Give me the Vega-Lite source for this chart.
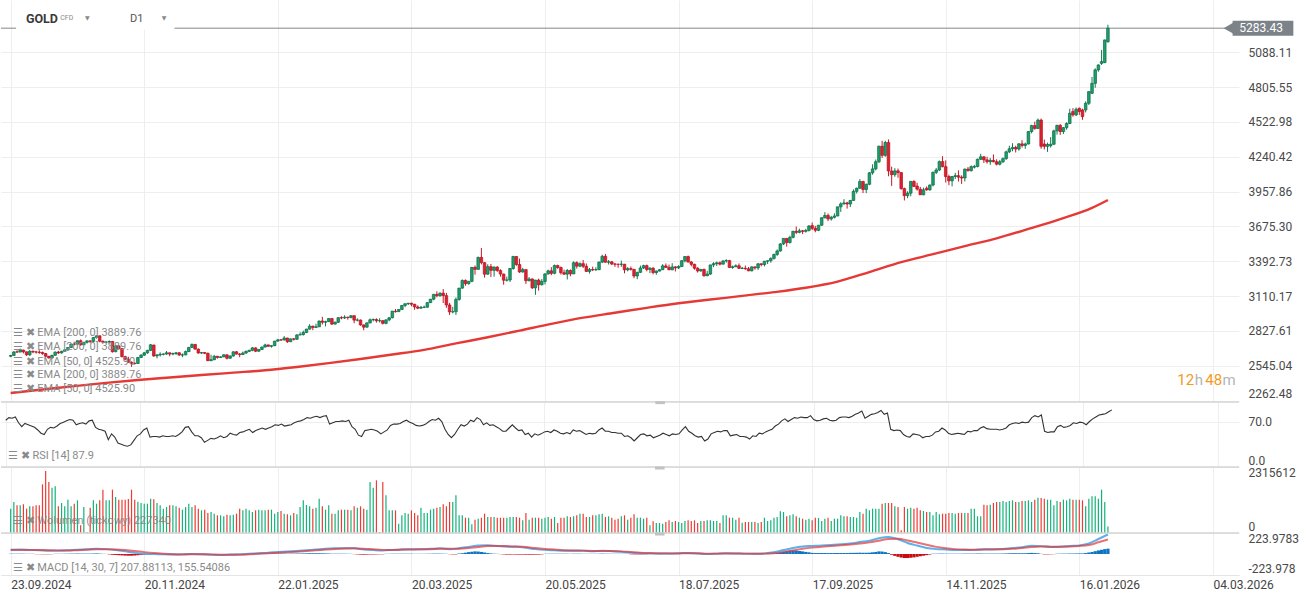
{
"$schema":"https://vega.github.io/schema/vega-lite/v6.json",
"background":"white","padding":0,"spacing":0,"bounds":"flush",
"config":{"view":{"stroke":null},"font":"Roboto","axis":{"labelFont":"Roboto","labelColor":"#4a4a4a","labelFontSize":12,"ticks":false,"domain":false,"gridColor":"#eeeeee"},"text":{"font":"Roboto"}},
"datasets":{
"bars":[
{"i":0,"o":2622,"h":2634,"l":2614,"c":2628,"v":854,"r":72,"d":3},
{"i":1,"o":2628,"h":2664,"l":2625,"c":2657,"v":1088,"r":76,"d":3},
{"i":2,"o":2658,"h":2670,"l":2650,"c":2656,"v":971,"r":75,"d":3},
{"i":3,"o":2656,"h":2685,"l":2655,"c":2672,"v":971,"r":77,"d":3},
{"i":4,"o":2672,"h":2675,"l":2645,"c":2658,"v":1006,"r":68,"d":3},
{"i":5,"o":2658,"h":2660,"l":2625,"c":2634,"v":854,"r":62,"d":2},
{"i":6,"o":2634,"h":2673,"l":2624,"c":2662,"v":936,"r":67,"d":2},
{"i":7,"o":2662,"h":2669,"l":2647,"c":2657,"v":936,"r":65,"d":2},
{"i":8,"o":2657,"h":2665,"l":2644,"c":2656,"v":971,"r":63,"d":-2},
{"i":9,"o":2656,"h":2671,"l":2642,"c":2653,"v":971,"r":61,"d":-2},
{"i":10,"o":2653,"h":2660,"l":2634,"c":2644,"v":1707,"r":57,"d":-3},
{"i":11,"o":2644,"h":2648,"l":2617,"c":2622,"v":2175,"r":52,"d":-3},
{"i":12,"o":2622,"h":2625,"l":2604,"c":2608,"v":1789,"r":50,"d":-3},
{"i":13,"o":2608,"h":2633,"l":2605,"c":2630,"v":1591,"r":58,"d":-2},
{"i":14,"o":2630,"h":2661,"l":2625,"c":2656,"v":1637,"r":61,"d":2},
{"i":15,"o":2656,"h":2666,"l":2640,"c":2649,"v":936,"r":60,"d":2},
{"i":16,"o":2649,"h":2667,"l":2644,"c":2662,"v":1053,"r":63,"d":2},
{"i":17,"o":2662,"h":2678,"l":2658,"c":2674,"v":936,"r":67,"d":3},
{"i":18,"o":2674,"h":2696,"l":2665,"c":2693,"v":1170,"r":69,"d":3},
{"i":19,"o":2693,"h":2722,"l":2690,"c":2721,"v":936,"r":71,"d":4},
{"i":20,"o":2721,"h":2740,"l":2710,"c":2720,"v":1029,"r":73,"d":4},
{"i":21,"o":2720,"h":2750,"l":2716,"c":2748,"v":1146,"r":72,"d":5},
{"i":22,"o":2748,"h":2758,"l":2708,"c":2715,"v":269,"r":65,"d":4},
{"i":23,"o":2715,"h":2738,"l":2712,"c":2735,"v":912,"r":67,"d":4},
{"i":24,"o":2735,"h":2750,"l":2725,"c":2747,"v":35,"r":68,"d":4},
{"i":25,"o":2747,"h":2750,"l":2728,"c":2743,"v":889,"r":66,"d":4},
{"i":26,"o":2743,"h":2776,"l":2738,"c":2774,"v":1146,"r":71,"d":5},
{"i":27,"o":2774,"h":2790,"l":2765,"c":2788,"v":1029,"r":72,"d":6},
{"i":28,"o":2788,"h":2790,"l":2735,"c":2744,"v":1146,"r":61,"d":4},
{"i":29,"o":2744,"h":2750,"l":2730,"c":2736,"v":1520,"r":58,"d":2},
{"i":30,"o":2736,"h":2746,"l":2728,"c":2737,"v":1146,"r":57,"d":1},
{"i":31,"o":2737,"h":2750,"l":2725,"c":2742,"v":1146,"r":55,"d":-4},
{"i":32,"o":2742,"h":2746,"l":2652,"c":2659,"v":1520,"r":42,"d":-8},
{"i":33,"o":2659,"h":2711,"l":2655,"c":2706,"v":1263,"r":51,"d":-10},
{"i":34,"o":2706,"h":2710,"l":2676,"c":2684,"v":1170,"r":46,"d":-13},
{"i":35,"o":2684,"h":2686,"l":2612,"c":2619,"v":1170,"r":37,"d":-15},
{"i":36,"o":2619,"h":2626,"l":2590,"c":2598,"v":1170,"r":35,"d":-17},
{"i":37,"o":2598,"h":2618,"l":2570,"c":2573,"v":1193,"r":33,"d":-18},
{"i":38,"o":2573,"h":2580,"l":2536,"c":2565,"v":1520,"r":32,"d":-18},
{"i":39,"o":2565,"h":2573,"l":2555,"c":2563,"v":1170,"r":34,"d":-16},
{"i":40,"o":2563,"h":2615,"l":2560,"c":2612,"v":1099,"r":41,"d":-13},
{"i":41,"o":2612,"h":2639,"l":2608,"c":2631,"v":1053,"r":48,"d":-10},
{"i":42,"o":2631,"h":2656,"l":2625,"c":2650,"v":1029,"r":51,"d":-7},
{"i":43,"o":2650,"h":2674,"l":2642,"c":2670,"v":1029,"r":57,"d":-4},
{"i":44,"o":2670,"h":2721,"l":2665,"c":2715,"v":1205,"r":60,"d":-2},
{"i":45,"o":2713,"h":2716,"l":2617,"c":2625,"v":1182,"r":46,"d":2},
{"i":46,"o":2625,"h":2639,"l":2605,"c":2633,"v":1053,"r":47,"d":2},
{"i":47,"o":2633,"h":2654,"l":2620,"c":2638,"v":971,"r":47,"d":2},
{"i":48,"o":2638,"h":2645,"l":2630,"c":2640,"v":854,"r":46,"d":2},
{"i":49,"o":2640,"h":2665,"l":2635,"c":2650,"v":912,"r":48,"d":2},
{"i":50,"o":2650,"h":2652,"l":2622,"c":2640,"v":971,"r":47,"d":2},
{"i":51,"o":2640,"h":2652,"l":2630,"c":2643,"v":971,"r":47,"d":2},
{"i":52,"o":2643,"h":2657,"l":2635,"c":2650,"v":936,"r":48,"d":2},
{"i":53,"o":2650,"h":2656,"l":2625,"c":2632,"v":889,"r":47,"d":2},
{"i":54,"o":2632,"h":2645,"l":2615,"c":2633,"v":819,"r":50,"d":2},
{"i":55,"o":2633,"h":2668,"l":2630,"c":2660,"v":912,"r":54,"d":3},
{"i":56,"o":2660,"h":2697,"l":2656,"c":2694,"v":1029,"r":61,"d":3},
{"i":57,"o":2694,"h":2726,"l":2689,"c":2718,"v":912,"r":62,"d":3},
{"i":58,"o":2718,"h":2720,"l":2676,"c":2680,"v":971,"r":54,"d":2},
{"i":59,"o":2680,"h":2685,"l":2644,"c":2648,"v":854,"r":48,"d":2},
{"i":60,"o":2648,"h":2656,"l":2642,"c":2652,"v":795,"r":48,"d":2},
{"i":61,"o":2652,"h":2655,"l":2639,"c":2646,"v":819,"r":45,"d":2},
{"i":62,"o":2646,"h":2652,"l":2583,"c":2586,"v":702,"r":38,"d":-2},
{"i":63,"o":2586,"h":2634,"l":2583,"c":2594,"v":737,"r":41,"d":-2},
{"i":64,"o":2594,"h":2632,"l":2590,"c":2622,"v":678,"r":44,"d":-2},
{"i":65,"o":2622,"h":2625,"l":2603,"c":2612,"v":620,"r":43,"d":-2},
{"i":66,"o":2612,"h":2622,"l":2609,"c":2617,"v":620,"r":45,"d":-2},
{"i":67,"o":2617,"h":2638,"l":2615,"c":2634,"v":585,"r":48,"d":-2},
{"i":68,"o":2634,"h":2636,"l":2596,"c":2606,"v":643,"r":45,"d":-2},
{"i":69,"o":2606,"h":2630,"l":2602,"c":2624,"v":620,"r":47,"d":2},
{"i":70,"o":2624,"h":2662,"l":2620,"c":2658,"v":643,"r":52,"d":2},
{"i":71,"o":2658,"h":2665,"l":2636,"c":2640,"v":678,"r":50,"d":2},
{"i":72,"o":2640,"h":2648,"l":2614,"c":2636,"v":854,"r":49,"d":2},
{"i":73,"o":2636,"h":2660,"l":2632,"c":2648,"v":795,"r":53,"d":3},
{"i":74,"o":2648,"h":2668,"l":2642,"c":2662,"v":854,"r":54,"d":3},
{"i":75,"o":2662,"h":2675,"l":2655,"c":2670,"v":795,"r":56,"d":3},
{"i":76,"o":2670,"h":2697,"l":2663,"c":2690,"v":737,"r":58,"d":4},
{"i":77,"o":2690,"h":2694,"l":2656,"c":2663,"v":795,"r":53,"d":3},
{"i":78,"o":2663,"h":2679,"l":2659,"c":2677,"v":819,"r":56,"d":3},
{"i":79,"o":2677,"h":2700,"l":2672,"c":2697,"v":795,"r":58,"d":4},
{"i":80,"o":2697,"h":2724,"l":2692,"c":2714,"v":795,"r":60,"d":4},
{"i":81,"o":2714,"h":2716,"l":2698,"c":2703,"v":819,"r":58,"d":4},
{"i":82,"o":2703,"h":2711,"l":2692,"c":2708,"v":819,"r":60,"d":4},
{"i":83,"o":2708,"h":2746,"l":2704,"c":2745,"v":678,"r":62,"d":5},
{"i":84,"o":2745,"h":2763,"l":2741,"c":2755,"v":737,"r":65,"d":5},
{"i":85,"o":2755,"h":2760,"l":2746,"c":2754,"v":772,"r":64,"d":5},
{"i":86,"o":2754,"h":2786,"l":2750,"c":2770,"v":678,"r":66,"d":5},
{"i":87,"o":2770,"h":2772,"l":2730,"c":2740,"v":655,"r":63,"d":4},
{"i":88,"o":2740,"h":2766,"l":2737,"c":2763,"v":620,"r":64,"d":4},
{"i":89,"o":2763,"h":2770,"l":2750,"c":2760,"v":702,"r":65,"d":4},
{"i":90,"o":2760,"h":2800,"l":2755,"c":2795,"v":655,"r":68,"d":5},
{"i":91,"o":2795,"h":2817,"l":2792,"c":2798,"v":912,"r":70,"d":5},
{"i":92,"o":2798,"h":2830,"l":2790,"c":2815,"v":1146,"r":71,"d":6},
{"i":93,"o":2815,"h":2845,"l":2810,"c":2842,"v":982,"r":73,"d":7},
{"i":94,"o":2842,"h":2882,"l":2840,"c":2866,"v":936,"r":76,"d":8},
{"i":95,"o":2866,"h":2870,"l":2834,"c":2856,"v":854,"r":75,"d":8},
{"i":96,"o":2856,"h":2886,"l":2853,"c":2861,"v":889,"r":77,"d":8},
{"i":97,"o":2861,"h":2911,"l":2860,"c":2908,"v":1205,"r":78,"d":8},
{"i":98,"o":2908,"h":2942,"l":2880,"c":2898,"v":936,"r":76,"d":7},
{"i":99,"o":2898,"h":2910,"l":2864,"c":2903,"v":819,"r":78,"d":6},
{"i":100,"o":2903,"h":2932,"l":2900,"c":2928,"v":971,"r":79,"d":5},
{"i":101,"o":2928,"h":2929,"l":2876,"c":2883,"v":678,"r":66,"d":3},
{"i":102,"o":2883,"h":2904,"l":2880,"c":2898,"v":678,"r":68,"d":3},
{"i":103,"o":2898,"h":2938,"l":2893,"c":2935,"v":795,"r":70,"d":3},
{"i":104,"o":2935,"h":2947,"l":2922,"c":2933,"v":819,"r":70,"d":3},
{"i":105,"o":2933,"h":2955,"l":2924,"c":2939,"v":819,"r":71,"d":3},
{"i":106,"o":2939,"h":2943,"l":2919,"c":2936,"v":819,"r":70,"d":2},
{"i":107,"o":2936,"h":2956,"l":2930,"c":2951,"v":795,"r":72,"d":2},
{"i":108,"o":2951,"h":2953,"l":2890,"c":2915,"v":936,"r":62,"d":-2},
{"i":109,"o":2915,"h":2930,"l":2905,"c":2916,"v":889,"r":58,"d":-4},
{"i":110,"o":2916,"h":2920,"l":2870,"c":2876,"v":936,"r":49,"d":-6},
{"i":111,"o":2876,"h":2880,"l":2833,"c":2858,"v":854,"r":47,"d":-7},
{"i":112,"o":2858,"h":2896,"l":2855,"c":2893,"v":819,"r":56,"d":-6},
{"i":113,"o":2893,"h":2928,"l":2888,"c":2918,"v":1789,"r":57,"d":-5},
{"i":114,"o":2918,"h":2929,"l":2905,"c":2920,"v":1591,"r":58,"d":-5},
{"i":115,"o":2920,"h":2930,"l":2895,"c":2910,"v":1848,"r":57,"d":-4},
{"i":116,"o":2910,"h":2930,"l":2896,"c":2911,"v":35,"r":55,"d":-3},
{"i":117,"o":2911,"h":2914,"l":2880,"c":2889,"v":1789,"r":51,"d":-3},
{"i":118,"o":2889,"h":2922,"l":2881,"c":2917,"v":1322,"r":54,"d":2},
{"i":119,"o":2917,"h":2940,"l":2906,"c":2934,"v":795,"r":57,"d":2},
{"i":120,"o":2934,"h":2990,"l":2930,"c":2988,"v":795,"r":64,"d":3},
{"i":121,"o":2988,"h":3005,"l":2976,"c":2984,"v":795,"r":66,"d":3},
{"i":122,"o":2984,"h":3004,"l":2982,"c":3001,"v":327,"r":66,"d":3},
{"i":123,"o":3001,"h":3038,"l":2999,"c":3034,"v":620,"r":67,"d":3},
{"i":124,"o":3034,"h":3050,"l":3020,"c":3048,"v":702,"r":70,"d":3},
{"i":125,"o":3048,"h":3055,"l":3038,"c":3052,"v":678,"r":72,"d":3},
{"i":126,"o":3052,"h":3057,"l":3027,"c":3044,"v":795,"r":69,"d":3},
{"i":127,"o":3044,"h":3047,"l":2999,"c":3022,"v":702,"r":67,"d":2},
{"i":128,"o":3022,"h":3035,"l":3004,"c":3012,"v":620,"r":64,"d":2},
{"i":129,"o":3012,"h":3030,"l":3007,"c":3019,"v":889,"r":63,"d":2},
{"i":130,"o":3019,"h":3033,"l":3012,"c":3020,"v":702,"r":64,"d":2},
{"i":131,"o":3020,"h":3059,"l":3015,"c":3057,"v":702,"r":66,"d":3},
{"i":132,"o":3057,"h":3087,"l":3054,"c":3085,"v":819,"r":70,"d":3},
{"i":133,"o":3085,"h":3128,"l":3076,"c":3124,"v":854,"r":73,"d":4},
{"i":134,"o":3124,"h":3149,"l":3100,"c":3113,"v":889,"r":72,"d":4},
{"i":135,"o":3113,"h":3140,"l":3105,"c":3134,"v":912,"r":75,"d":4},
{"i":136,"o":3134,"h":3167,"l":3054,"c":3114,"v":1006,"r":70,"d":3},
{"i":137,"o":3114,"h":3136,"l":3015,"c":3038,"v":936,"r":58,"d":2},
{"i":138,"o":3038,"h":3055,"l":2957,"c":2982,"v":1088,"r":50,"d":-2},
{"i":139,"o":2982,"h":3023,"l":2970,"c":2983,"v":1088,"r":45,"d":-4},
{"i":140,"o":2983,"h":3099,"l":2957,"c":3083,"v":1322,"r":50,"d":-4},
{"i":141,"o":3083,"h":3176,"l":3073,"c":3175,"v":620,"r":58,"d":5},
{"i":142,"o":3175,"h":3245,"l":3170,"c":3237,"v":620,"r":65,"d":8},
{"i":143,"o":3237,"h":3245,"l":3194,"c":3211,"v":538,"r":63,"d":14},
{"i":144,"o":3211,"h":3233,"l":3203,"c":3230,"v":538,"r":66,"d":20},
{"i":145,"o":3230,"h":3346,"l":3222,"c":3343,"v":304,"r":72,"d":24},
{"i":146,"o":3343,"h":3358,"l":3283,"c":3327,"v":468,"r":70,"d":28},
{"i":147,"o":3327,"h":3430,"l":3326,"c":3424,"v":503,"r":76,"d":26},
{"i":148,"o":3424,"h":3500,"l":3367,"c":3381,"v":538,"r":73,"d":22},
{"i":149,"o":3381,"h":3386,"l":3260,"c":3288,"v":678,"r":65,"d":16},
{"i":150,"o":3288,"h":3368,"l":3283,"c":3349,"v":561,"r":68,"d":10},
{"i":151,"o":3349,"h":3371,"l":3265,"c":3319,"v":561,"r":64,"d":6},
{"i":152,"o":3319,"h":3352,"l":3268,"c":3345,"v":561,"r":65,"d":3},
{"i":153,"o":3345,"h":3353,"l":3307,"c":3317,"v":538,"r":62,"d":2},
{"i":154,"o":3317,"h":3328,"l":3268,"c":3289,"v":538,"r":59,"d":-2},
{"i":155,"o":3289,"h":3292,"l":3202,"c":3239,"v":538,"r":55,"d":-4},
{"i":156,"o":3239,"h":3268,"l":3228,"c":3241,"v":538,"r":55,"d":-6},
{"i":157,"o":3241,"h":3337,"l":3225,"c":3334,"v":561,"r":60,"d":-6},
{"i":158,"o":3334,"h":3437,"l":3324,"c":3431,"v":561,"r":65,"d":-5},
{"i":159,"o":3431,"h":3435,"l":3355,"c":3366,"v":561,"r":60,"d":-6},
{"i":160,"o":3366,"h":3414,"l":3298,"c":3306,"v":538,"r":56,"d":-6},
{"i":161,"o":3306,"h":3340,"l":3300,"c":3325,"v":444,"r":57,"d":-6},
{"i":162,"o":3325,"h":3325,"l":3208,"c":3235,"v":702,"r":50,"d":-7},
{"i":163,"o":3235,"h":3265,"l":3229,"c":3249,"v":468,"r":52,"d":-7},
{"i":164,"o":3249,"h":3253,"l":3168,"c":3177,"v":538,"r":46,"d":-7},
{"i":165,"o":3177,"h":3241,"l":3120,"c":3240,"v":538,"r":51,"d":-6},
{"i":166,"o":3240,"h":3252,"l":3154,"c":3202,"v":538,"r":49,"d":-6},
{"i":167,"o":3202,"h":3249,"l":3196,"c":3229,"v":503,"r":51,"d":-4},
{"i":168,"o":3229,"h":3295,"l":3205,"c":3290,"v":538,"r":54,"d":2},
{"i":169,"o":3290,"h":3325,"l":3285,"c":3315,"v":561,"r":55,"d":3},
{"i":170,"o":3315,"h":3345,"l":3280,"c":3295,"v":503,"r":53,"d":3},
{"i":171,"o":3295,"h":3366,"l":3287,"c":3358,"v":561,"r":57,"d":3},
{"i":172,"o":3358,"h":3365,"l":3331,"c":3342,"v":351,"r":55,"d":3},
{"i":173,"o":3342,"h":3350,"l":3285,"c":3300,"v":538,"r":52,"d":3},
{"i":174,"o":3300,"h":3325,"l":3282,"c":3288,"v":538,"r":51,"d":3},
{"i":175,"o":3288,"h":3330,"l":3245,"c":3318,"v":585,"r":53,"d":3},
{"i":176,"o":3318,"h":3326,"l":3271,"c":3290,"v":561,"r":51,"d":2},
{"i":177,"o":3290,"h":3392,"l":3289,"c":3381,"v":585,"r":57,"d":3},
{"i":178,"o":3381,"h":3392,"l":3333,"c":3353,"v":620,"r":55,"d":3},
{"i":179,"o":3353,"h":3384,"l":3344,"c":3373,"v":678,"r":56,"d":3},
{"i":180,"o":3373,"h":3403,"l":3338,"c":3352,"v":678,"r":53,"d":2},
{"i":181,"o":3352,"h":3375,"l":3307,"c":3310,"v":561,"r":50,"d":2},
{"i":182,"o":3310,"h":3338,"l":3293,"c":3326,"v":561,"r":52,"d":2},
{"i":183,"o":3326,"h":3349,"l":3313,"c":3323,"v":620,"r":51,"d":2},
{"i":184,"o":3323,"h":3344,"l":3315,"c":3325,"v":620,"r":52,"d":2},
{"i":185,"o":3325,"h":3390,"l":3320,"c":3386,"v":655,"r":57,"d":3},
{"i":186,"o":3386,"h":3446,"l":3378,"c":3433,"v":678,"r":60,"d":4},
{"i":187,"o":3433,"h":3452,"l":3382,"c":3385,"v":561,"r":55,"d":3},
{"i":188,"o":3385,"h":3403,"l":3366,"c":3388,"v":585,"r":55,"d":3},
{"i":189,"o":3388,"h":3395,"l":3362,"c":3370,"v":538,"r":53,"d":2},
{"i":190,"o":3370,"h":3379,"l":3347,"c":3369,"v":468,"r":53,"d":2},
{"i":191,"o":3369,"h":3372,"l":3340,"c":3368,"v":503,"r":52,"d":2},
{"i":192,"o":3368,"h":3398,"l":3347,"c":3369,"v":585,"r":52,"d":2},
{"i":193,"o":3369,"h":3371,"l":3295,"c":3323,"v":620,"r":47,"d":2},
{"i":194,"o":3323,"h":3345,"l":3311,"c":3333,"v":468,"r":48,"d":2},
{"i":195,"o":3333,"h":3350,"l":3317,"c":3327,"v":538,"r":45,"d":-3},
{"i":196,"o":3327,"h":3330,"l":3255,"c":3273,"v":655,"r":40,"d":-4},
{"i":197,"o":3273,"h":3307,"l":3247,"c":3303,"v":538,"r":45,"d":-4},
{"i":198,"o":3303,"h":3358,"l":3298,"c":3338,"v":538,"r":50,"d":-4},
{"i":199,"o":3338,"h":3365,"l":3330,"c":3357,"v":503,"r":51,"d":-3},
{"i":200,"o":3357,"h":3366,"l":3311,"c":3326,"v":538,"r":48,"d":-2},
{"i":201,"o":3326,"h":3345,"l":3296,"c":3336,"v":269,"r":49,"d":2},
{"i":202,"o":3336,"h":3345,"l":3287,"c":3301,"v":409,"r":45,"d":2},
{"i":203,"o":3301,"h":3318,"l":3283,"c":3313,"v":351,"r":47,"d":2},
{"i":204,"o":3313,"h":3330,"l":3310,"c":3324,"v":351,"r":49,"d":2},
{"i":205,"o":3324,"h":3369,"l":3322,"c":3355,"v":327,"r":52,"d":2},
{"i":206,"o":3355,"h":3375,"l":3339,"c":3343,"v":386,"r":50,"d":2},
{"i":207,"o":3343,"h":3366,"l":3320,"c":3324,"v":444,"r":48,"d":2},
{"i":208,"o":3324,"h":3377,"l":3319,"c":3347,"v":386,"r":51,"d":2},
{"i":209,"o":3347,"h":3352,"l":3310,"c":3339,"v":421,"r":50,"d":2},
{"i":210,"o":3339,"h":3361,"l":3330,"c":3350,"v":386,"r":51,"d":2},
{"i":211,"o":3350,"h":3402,"l":3345,"c":3397,"v":351,"r":57,"d":3},
{"i":212,"o":3397,"h":3434,"l":3383,"c":3431,"v":421,"r":62,"d":3},
{"i":213,"o":3431,"h":3439,"l":3381,"c":3387,"v":444,"r":55,"d":2},
{"i":214,"o":3387,"h":3394,"l":3351,"c":3368,"v":421,"r":52,"d":2},
{"i":215,"o":3368,"h":3373,"l":3324,"c":3336,"v":444,"r":48,"d":2},
{"i":216,"o":3336,"h":3345,"l":3301,"c":3314,"v":351,"r":46,"d":2},
{"i":217,"o":3314,"h":3331,"l":3308,"c":3326,"v":421,"r":47,"d":2},
{"i":218,"o":3326,"h":3334,"l":3268,"c":3275,"v":421,"r":40,"d":-4},
{"i":219,"o":3275,"h":3315,"l":3272,"c":3289,"v":444,"r":43,"d":-4},
{"i":220,"o":3289,"h":3363,"l":3281,"c":3363,"v":444,"r":51,"d":-3},
{"i":221,"o":3363,"h":3385,"l":3345,"c":3373,"v":421,"r":53,"d":2},
{"i":222,"o":3373,"h":3390,"l":3354,"c":3380,"v":421,"r":55,"d":2},
{"i":223,"o":3380,"h":3391,"l":3359,"c":3369,"v":351,"r":54,"d":2},
{"i":224,"o":3369,"h":3399,"l":3368,"c":3396,"v":620,"r":56,"d":2},
{"i":225,"o":3396,"h":3409,"l":3381,"c":3398,"v":620,"r":56,"d":2},
{"i":226,"o":3398,"h":3404,"l":3340,"c":3342,"v":538,"r":48,"d":2},
{"i":227,"o":3342,"h":3358,"l":3331,"c":3348,"v":538,"r":49,"d":2},
{"i":228,"o":3348,"h":3368,"l":3346,"c":3356,"v":468,"r":50,"d":2},
{"i":229,"o":3356,"h":3375,"l":3330,"c":3335,"v":538,"r":47,"d":2},
{"i":230,"o":3335,"h":3347,"l":3330,"c":3336,"v":363,"r":47,"d":2},
{"i":231,"o":3336,"h":3358,"l":3323,"c":3332,"v":386,"r":46,"d":2},
{"i":232,"o":3332,"h":3346,"l":3312,"c":3315,"v":386,"r":43,"d":2},
{"i":233,"o":3315,"h":3351,"l":3311,"c":3347,"v":386,"r":48,"d":2},
{"i":234,"o":3347,"h":3350,"l":3324,"c":3339,"v":386,"r":47,"d":2},
{"i":235,"o":3339,"h":3378,"l":3322,"c":3372,"v":351,"r":52,"d":2},
{"i":236,"o":3372,"h":3376,"l":3351,"c":3366,"v":386,"r":51,"d":2},
{"i":237,"o":3366,"h":3394,"l":3351,"c":3393,"v":538,"r":54,"d":2},
{"i":238,"o":3393,"h":3398,"l":3370,"c":3397,"v":421,"r":56,"d":2},
{"i":239,"o":3397,"h":3424,"l":3381,"c":3416,"v":444,"r":58,"d":3},
{"i":240,"o":3416,"h":3454,"l":3406,"c":3448,"v":538,"r":63,"d":6},
{"i":241,"o":3448,"h":3489,"l":3436,"c":3476,"v":561,"r":66,"d":12},
{"i":242,"o":3476,"h":3540,"l":3470,"c":3533,"v":760,"r":71,"d":18},
{"i":243,"o":3533,"h":3578,"l":3525,"c":3578,"v":737,"r":74,"d":24},
{"i":244,"o":3578,"h":3580,"l":3511,"c":3545,"v":585,"r":70,"d":30},
{"i":245,"o":3545,"h":3600,"l":3536,"c":3587,"v":620,"r":73,"d":36},
{"i":246,"o":3587,"h":3639,"l":3578,"c":3636,"v":655,"r":76,"d":39},
{"i":247,"o":3636,"h":3674,"l":3613,"c":3627,"v":585,"r":75,"d":36},
{"i":248,"o":3627,"h":3657,"l":3620,"c":3640,"v":538,"r":77,"d":32},
{"i":249,"o":3640,"h":3645,"l":3613,"c":3635,"v":503,"r":76,"d":28},
{"i":250,"o":3635,"h":3655,"l":3625,"c":3643,"v":468,"r":76,"d":22},
{"i":251,"o":3643,"h":3685,"l":3634,"c":3679,"v":503,"r":79,"d":18},
{"i":252,"o":3682,"h":3707,"l":3645,"c":3660,"v":444,"r":73,"d":12},
{"i":253,"o":3660,"h":3680,"l":3628,"c":3644,"v":538,"r":71,"d":10},
{"i":254,"o":3644,"h":3687,"l":3637,"c":3685,"v":526,"r":72,"d":10},
{"i":255,"o":3685,"h":3749,"l":3680,"c":3746,"v":421,"r":74,"d":11},
{"i":256,"o":3746,"h":3791,"l":3740,"c":3764,"v":503,"r":75,"d":11},
{"i":257,"o":3764,"h":3780,"l":3718,"c":3736,"v":538,"r":72,"d":10},
{"i":258,"o":3736,"h":3761,"l":3722,"c":3749,"v":421,"r":71,"d":10},
{"i":259,"o":3749,"h":3782,"l":3740,"c":3760,"v":503,"r":72,"d":10},
{"i":260,"o":3760,"h":3835,"l":3758,"c":3834,"v":503,"r":76,"d":11},
{"i":261,"o":3834,"h":3871,"l":3793,"c":3858,"v":620,"r":77,"d":11},
{"i":262,"o":3858,"h":3896,"l":3852,"c":3866,"v":585,"r":77,"d":11},
{"i":263,"o":3866,"h":3875,"l":3820,"c":3857,"v":585,"r":76,"d":11},
{"i":264,"o":3857,"h":3889,"l":3832,"c":3886,"v":561,"r":78,"d":12},
{"i":265,"o":3886,"h":3975,"l":3884,"c":3960,"v":561,"r":81,"d":12},
{"i":266,"o":3960,"h":3990,"l":3942,"c":3985,"v":538,"r":83,"d":13},
{"i":267,"o":3985,"h":4059,"l":3980,"c":4040,"v":737,"r":86,"d":14},
{"i":268,"o":4040,"h":4045,"l":3946,"c":3975,"v":678,"r":75,"d":13},
{"i":269,"o":3975,"h":4022,"l":3945,"c":4017,"v":854,"r":78,"d":13},
{"i":270,"o":4017,"h":4116,"l":4010,"c":4110,"v":795,"r":81,"d":14},
{"i":271,"o":4110,"h":4179,"l":4095,"c":4142,"v":854,"r":82,"d":18},
{"i":272,"o":4142,"h":4218,"l":4130,"c":4200,"v":854,"r":84,"d":22},
{"i":273,"o":4200,"h":4330,"l":4190,"c":4326,"v":854,"r":87,"d":28},
{"i":274,"o":4326,"h":4370,"l":4230,"c":4252,"v":1029,"r":81,"d":26},
{"i":275,"o":4252,"h":4370,"l":4240,"c":4356,"v":1053,"r":83,"d":20},
{"i":276,"o":4356,"h":4381,"l":4082,"c":4125,"v":1053,"r":58,"d":10},
{"i":277,"o":4125,"h":4160,"l":4004,"c":4095,"v":1053,"r":56,"d":-8},
{"i":278,"o":4095,"h":4148,"l":4078,"c":4126,"v":936,"r":57,"d":-20},
{"i":279,"o":4126,"h":4145,"l":4070,"c":4112,"v":912,"r":56,"d":-30},
{"i":280,"o":4112,"h":4115,"l":3973,"c":3982,"v":94,"r":50,"d":-38},
{"i":281,"o":3982,"h":3990,"l":3886,"c":3925,"v":912,"r":47,"d":-43},
{"i":282,"o":3925,"h":3960,"l":3905,"c":3945,"v":854,"r":46,"d":-43},
{"i":283,"o":3945,"h":4045,"l":3920,"c":4040,"v":889,"r":51,"d":-40},
{"i":284,"o":4040,"h":4050,"l":3995,"c":4000,"v":854,"r":50,"d":-36},
{"i":285,"o":4003,"h":4030,"l":3965,"c":3978,"v":889,"r":49,"d":-30},
{"i":286,"o":3977,"h":3996,"l":3930,"c":3932,"v":795,"r":45,"d":-24},
{"i":287,"o":3932,"h":3990,"l":3928,"c":3972,"v":772,"r":47,"d":-18},
{"i":288,"o":3985,"h":4000,"l":3965,"c":3972,"v":737,"r":47,"d":-12},
{"i":289,"o":3972,"h":4015,"l":3965,"c":4011,"v":737,"r":49,"d":-6},
{"i":290,"o":4011,"h":4120,"l":4000,"c":4114,"v":620,"r":54,"d":3},
{"i":291,"o":4114,"h":4150,"l":4100,"c":4133,"v":737,"r":55,"d":3},
{"i":292,"o":4133,"h":4210,"l":4125,"c":4201,"v":655,"r":60,"d":4},
{"i":293,"o":4201,"h":4245,"l":4155,"c":4160,"v":678,"r":57,"d":4},
{"i":294,"o":4160,"h":4211,"l":4032,"c":4080,"v":678,"r":52,"d":3},
{"i":295,"o":4080,"h":4095,"l":4010,"c":4045,"v":702,"r":50,"d":3},
{"i":296,"o":4045,"h":4085,"l":4000,"c":4080,"v":702,"r":51,"d":3},
{"i":297,"o":4080,"h":4110,"l":4060,"c":4087,"v":678,"r":52,"d":3},
{"i":298,"o":4087,"h":4130,"l":4040,"c":4075,"v":702,"r":51,"d":3},
{"i":299,"o":4075,"h":4090,"l":4020,"c":4068,"v":702,"r":50,"d":3},
{"i":300,"o":4068,"h":4145,"l":4040,"c":4140,"v":702,"r":55,"d":4},
{"i":301,"o":4140,"h":4157,"l":4120,"c":4128,"v":702,"r":54,"d":4},
{"i":302,"o":4128,"h":4170,"l":4120,"c":4160,"v":854,"r":56,"d":4},
{"i":303,"o":4156,"h":4175,"l":4145,"c":4161,"v":854,"r":56,"d":4},
{"i":304,"o":4161,"h":4225,"l":4155,"c":4220,"v":585,"r":60,"d":5},
{"i":305,"o":4220,"h":4265,"l":4215,"c":4240,"v":585,"r":62,"d":5},
{"i":306,"o":4240,"h":4245,"l":4190,"c":4215,"v":994,"r":59,"d":4},
{"i":307,"o":4215,"h":4240,"l":4185,"c":4200,"v":971,"r":58,"d":4},
{"i":308,"o":4200,"h":4230,"l":4175,"c":4211,"v":994,"r":58,"d":4},
{"i":309,"o":4211,"h":4259,"l":4195,"c":4200,"v":1053,"r":58,"d":4},
{"i":310,"o":4200,"h":4220,"l":4170,"c":4180,"v":1088,"r":57,"d":4},
{"i":311,"o":4180,"h":4215,"l":4170,"c":4200,"v":1088,"r":58,"d":4},
{"i":312,"o":4200,"h":4235,"l":4190,"c":4225,"v":1123,"r":60,"d":5},
{"i":313,"o":4225,"h":4290,"l":4215,"c":4280,"v":1088,"r":65,"d":6},
{"i":314,"o":4280,"h":4330,"l":4270,"c":4305,"v":1123,"r":67,"d":7},
{"i":315,"o":4305,"h":4350,"l":4285,"c":4316,"v":1146,"r":68,"d":8},
{"i":316,"o":4316,"h":4330,"l":4275,"c":4303,"v":1088,"r":67,"d":8},
{"i":317,"o":4303,"h":4350,"l":4290,"c":4345,"v":1088,"r":69,"d":8},
{"i":318,"o":4345,"h":4375,"l":4315,"c":4332,"v":1123,"r":68,"d":8},
{"i":319,"o":4332,"h":4355,"l":4305,"c":4344,"v":1123,"r":69,"d":9},
{"i":320,"o":4344,"h":4448,"l":4340,"c":4445,"v":1146,"r":76,"d":10},
{"i":321,"o":4445,"h":4500,"l":4430,"c":4493,"v":1088,"r":79,"d":12},
{"i":322,"o":4493,"h":4525,"l":4460,"c":4470,"v":1170,"r":77,"d":10},
{"i":323,"o":4470,"h":4550,"l":4465,"c":4538,"v":1240,"r":80,"d":8},
{"i":324,"o":4538,"h":4550,"l":4305,"c":4325,"v":1228,"r":55,"d":2},
{"i":325,"o":4344,"h":4380,"l":4300,"c":4325,"v":1205,"r":53,"d":-4},
{"i":326,"o":4325,"h":4355,"l":4280,"c":4340,"v":1170,"r":54,"d":-4},
{"i":327,"o":4330,"h":4400,"l":4315,"c":4342,"v":1170,"r":54,"d":-3},
{"i":328,"o":4342,"h":4460,"l":4335,"c":4450,"v":971,"r":62,"d":-2},
{"i":329,"o":4450,"h":4500,"l":4420,"c":4495,"v":1123,"r":64,"d":3},
{"i":330,"o":4495,"h":4505,"l":4418,"c":4445,"v":1088,"r":61,"d":3},
{"i":331,"o":4445,"h":4482,"l":4425,"c":4476,"v":1170,"r":62,"d":4},
{"i":332,"o":4476,"h":4520,"l":4460,"c":4510,"v":1146,"r":64,"d":4},
{"i":333,"o":4510,"h":4630,"l":4505,"c":4593,"v":1205,"r":68,"d":5},
{"i":334,"o":4607,"h":4635,"l":4565,"c":4580,"v":1170,"r":67,"d":5},
{"i":335,"o":4580,"h":4640,"l":4570,"c":4625,"v":1170,"r":69,"d":6},
{"i":336,"o":4633,"h":4640,"l":4580,"c":4607,"v":1170,"r":68,"d":6},
{"i":337,"o":4620,"h":4630,"l":4540,"c":4566,"v":1146,"r":65,"d":6},
{"i":338,"o":4620,"h":4690,"l":4600,"c":4674,"v":936,"r":70,"d":10},
{"i":339,"o":4674,"h":4770,"l":4660,"c":4769,"v":1205,"r":74,"d":16},
{"i":340,"o":4755,"h":4888,"l":4750,"c":4836,"v":1287,"r":77,"d":22},
{"i":341,"o":4836,"h":4958,"l":4800,"c":4945,"v":1287,"r":80,"d":30},
{"i":342,"o":4945,"h":4990,"l":4930,"c":4985,"v":1205,"r":81,"d":38},
{"i":343,"o":4998,"h":5107,"l":4985,"c":5012,"v":1520,"r":82,"d":45},
{"i":344,"o":5004,"h":5190,"l":5000,"c":5188,"v":1088,"r":85,"d":52},
{"i":345,"o":5174,"h":5311,"l":5165,"c":5283.43,"v":227,"r":87.9,"d":57}
],
"ema":[{"i":0,"e":2324},{"i":10,"e":2352},{"i":20,"e":2380},{"i":30,"e":2406},{"i":40,"e":2430},{"i":50,"e":2450},{"i":60,"e":2470},{"i":70,"e":2489},{"i":80,"e":2508},{"i":90,"e":2535},{"i":100,"e":2566},{"i":110,"e":2600},{"i":120,"e":2636},{"i":130,"e":2674},{"i":140,"e":2726},{"i":150,"e":2776},{"i":160,"e":2830},{"i":170,"e":2885},{"i":180,"e":2935},{"i":190,"e":2975},{"i":200,"e":3015},{"i":210,"e":3052},{"i":220,"e":3082},{"i":230,"e":3112},{"i":240,"e":3142},{"i":250,"e":3178},{"i":260,"e":3228},{"i":270,"e":3305},{"i":280,"e":3385},{"i":290,"e":3450},{"i":300,"e":3515},{"i":310,"e":3579},{"i":320,"e":3655},{"i":330,"e":3735},{"i":340,"e":3826},{"i":345,"e":3890}],
"macd":[{"i":0,"m":45,"s":42},{"i":3,"m":48,"s":44},{"i":6,"m":44,"s":44},{"i":9,"m":40,"s":43},{"i":12,"m":35,"s":40},{"i":15,"m":36,"s":38},{"i":18,"m":40,"s":38},{"i":21,"m":46,"s":41},{"i":24,"m":50,"s":45},{"i":27,"m":56,"s":50},{"i":30,"m":52,"s":52},{"i":33,"m":42,"s":49},{"i":36,"m":28,"s":42},{"i":39,"m":12,"s":32},{"i":42,"m":3,"s":20},{"i":45,"m":0,"s":10},{"i":48,"m":-4,"s":3},{"i":51,"m":-6,"s":-2},{"i":54,"m":-4,"s":-4},{"i":57,"m":0,"s":-3},{"i":60,"m":-2,"s":-2},{"i":63,"m":-8,"s":-4},{"i":66,"m":-10,"s":-7},{"i":69,"m":-9,"s":-8},{"i":72,"m":-4,"s":-7},{"i":75,"m":2,"s":-3},{"i":78,"m":8,"s":2},{"i":81,"m":14,"s":8},{"i":84,"m":22,"s":14},{"i":87,"m":26,"s":20},{"i":90,"m":32,"s":25},{"i":93,"m":40,"s":32},{"i":96,"m":48,"s":39},{"i":99,"m":56,"s":47},{"i":102,"m":60,"s":54},{"i":105,"m":62,"s":58},{"i":108,"m":60,"s":60},{"i":111,"m":48,"s":56},{"i":114,"m":42,"s":50},{"i":117,"m":38,"s":44},{"i":120,"m":44,"s":42},{"i":123,"m":50,"s":45},{"i":126,"m":52,"s":48},{"i":129,"m":50,"s":50},{"i":132,"m":55,"s":51},{"i":135,"m":60,"s":55},{"i":138,"m":50,"s":55},{"i":141,"m":62,"s":57},{"i":144,"m":76,"s":64},{"i":147,"m":90,"s":75},{"i":150,"m":92,"s":84},{"i":153,"m":86,"s":86},{"i":156,"m":78,"s":84},{"i":159,"m":76,"s":80},{"i":162,"m":66,"s":74},{"i":165,"m":52,"s":63},{"i":168,"m":44,"s":54},{"i":171,"m":40,"s":47},{"i":174,"m":36,"s":41},{"i":177,"m":36,"s":38},{"i":180,"m":35,"s":36},{"i":183,"m":30,"s":33},{"i":186,"m":34,"s":33},{"i":189,"m":30,"s":32},{"i":192,"m":24,"s":28},{"i":195,"m":14,"s":21},{"i":198,"m":8,"s":14},{"i":201,"m":6,"s":10},{"i":204,"m":4,"s":7},{"i":207,"m":6,"s":6},{"i":210,"m":8,"s":6},{"i":213,"m":12,"s":9},{"i":216,"m":6,"s":8},{"i":219,"m":0,"s":4},{"i":222,"m":4,"s":3},{"i":225,"m":8,"s":5},{"i":228,"m":6,"s":6},{"i":231,"m":2,"s":4},{"i":234,"m":2,"s":3},{"i":237,"m":6,"s":4},{"i":240,"m":18,"s":9},{"i":243,"m":42,"s":22},{"i":246,"m":64,"s":38},{"i":249,"m":80,"s":55},{"i":252,"m":86,"s":68},{"i":255,"m":92,"s":78},{"i":258,"m":96,"s":86},{"i":261,"m":104,"s":94},{"i":264,"m":112,"s":101},{"i":267,"m":128,"s":112},{"i":270,"m":142,"s":124},{"i":273,"m":168,"s":142},{"i":276,"m":182,"s":160},{"i":279,"m":158,"s":162},{"i":282,"m":118,"s":145},{"i":285,"m":90,"s":122},{"i":288,"m":64,"s":98},{"i":291,"m":52,"s":76},{"i":294,"m":48,"s":62},{"i":297,"m":42,"s":52},{"i":300,"m":42,"s":47},{"i":303,"m":44,"s":45},{"i":306,"m":50,"s":47},{"i":309,"m":50,"s":49},{"i":312,"m":54,"s":51},{"i":315,"m":64,"s":56},{"i":318,"m":72,"s":63},{"i":321,"m":88,"s":74},{"i":324,"m":84,"s":80},{"i":327,"m":74,"s":78},{"i":330,"m":76,"s":77},{"i":333,"m":86,"s":80},{"i":336,"m":92,"s":86},{"i":339,"m":112,"s":96},{"i":342,"m":160,"s":125},{"i":345,"m":207.88,"s":155.54}]
},
"vconcat":[
{"width":1238,"height":402,
 "layer":[
  {"data":{"values":[{}]},"mark":{"type":"rule","color":"#80878c","strokeWidth":1},
   "encoding":{"y":{"datum":5283.43,"type":"quantitative","scale":{"domain":[2251,5512],"nice":false,"zero":false}}}},
  {"data":{"name":"ema"},"mark":{"type":"line","color":"#e53935","strokeWidth":2.4,"interpolate":"monotone"},
   "encoding":{"x":{"field":"i","type":"quantitative","title":null,"scale":{"domain":[-1.47,384.64],"nice":false,"zero":false},
     "axis":{"values":[0,42,84,126,168,210,252,294,336,378],"labels":false,"grid":true,"title":null}},
    "y":{"field":"e","type":"quantitative","title":null,
     "axis":{"orient":"right","values":[2262.48,2545.04,2827.61,3110.17,3392.73,3675.30,3957.86,4240.42,4522.98,4805.55,5088.11],"format":".2f","labelPadding":9,"grid":true,"title":null,
       "labelBaseline":{"condition":{"test":"datum.value < 2300","value":"bottom"},"value":"middle"}}}}},
  {"data":{"name":"bars"},"mark":{"type":"rule","strokeWidth":1},
   "encoding":{"x":{"field":"i","type":"quantitative","title":null},"y":{"field":"l","type":"quantitative","title":null},"y2":{"field":"h"},
    "color":{"condition":{"test":"datum.c >= datum.o","value":"#117a50"},"value":"#c8172a"}}},
  {"data":{"name":"bars"},"mark":{"type":"bar","width":2.6,"strokeWidth":0.7},
   "encoding":{"x":{"field":"i","type":"quantitative","title":null},"y":{"field":"o","type":"quantitative","title":null},"y2":{"field":"c"},
    "fill":{"condition":{"test":"datum.c >= datum.o","value":"#1d9e6d"},"value":"#e0202f"},
    "stroke":{"condition":{"test":"datum.c >= datum.o","value":"#0c6a45"},"value":"#b3121f"}}},
  {"data":{"values":[{}]},"mark":{"type":"rect","fill":"white"},
   "encoding":{"x":{"datum":1.7,"type":"quantitative"},"x2":{"datum":51.5},"y":{"datum":5512,"type":"quantitative"},"y2":{"datum":5270}}},
  {"data":{"values":[{}]},"mark":{"type":"text","text":"GOLD","fontWeight":"bold","fontSize":12.5,"color":"#3a3a3a","align":"left","baseline":"middle"},
   "encoding":{"x":{"datum":4.8,"type":"quantitative"},"y":{"datum":5357,"type":"quantitative"}}},
  {"data":{"values":[{}]},"mark":{"type":"text","text":"CFD","fontSize":7,"color":"#8a8a8a","align":"left","baseline":"middle"},
   "encoding":{"x":{"datum":15.6,"type":"quantitative"},"y":{"datum":5362,"type":"quantitative"}}},
  {"data":{"values":[{}]},"mark":{"type":"text","text":"▼","fontSize":6,"color":"#888888","align":"left","baseline":"middle","font":"DejaVu Sans"},
   "encoding":{"x":{"datum":23.4,"type":"quantitative"},"y":{"datum":5370,"type":"quantitative"}}},
  {"data":{"values":[{}]},"mark":{"type":"text","text":"D1","fontSize":11,"color":"#555555","align":"left","baseline":"middle"},
   "encoding":{"x":{"datum":37.5,"type":"quantitative"},"y":{"datum":5358,"type":"quantitative"}}},
  {"data":{"values":[{}]},"mark":{"type":"text","text":"▼","fontSize":6,"color":"#888888","align":"left","baseline":"middle","font":"DejaVu Sans"},
   "encoding":{"x":{"datum":47.5,"type":"quantitative"},"y":{"datum":5370,"type":"quantitative"}}},
  {"data":{"values":[{}]},"mark":{"type":"text","text":"☰ ✖ EMA [200, 0] 3889.76","fontSize":11,"color":"#8a8a8a","align":"left","baseline":"middle"},
   "encoding":{"x":{"datum":0.7,"type":"quantitative"},"y":{"datum":2810,"type":"quantitative"}}},
  {"data":{"values":[{}]},"mark":{"type":"text","text":"☰ ✖ EMA [200, 0] 3889.76","fontSize":11,"color":"#8a8a8a","align":"left","baseline":"middle"},
   "encoding":{"x":{"datum":0.7,"type":"quantitative"},"y":{"datum":2697,"type":"quantitative"}}},
  {"data":{"values":[{}]},"mark":{"type":"text","text":"☰ ✖ EMA [50, 0] 4525.90","fontSize":11,"color":"#8a8a8a","align":"left","baseline":"middle"},
   "encoding":{"x":{"datum":0.7,"type":"quantitative"},"y":{"datum":2575,"type":"quantitative"}}},
  {"data":{"values":[{}]},"mark":{"type":"text","text":"☰ ✖ EMA [200, 0] 3889.76","fontSize":11,"color":"#8a8a8a","align":"left","baseline":"middle"},
   "encoding":{"x":{"datum":0.7,"type":"quantitative"},"y":{"datum":2470,"type":"quantitative"}}},
  {"data":{"values":[{}]},"mark":{"type":"text","text":"☰ ✖ EMA [50, 0] 4525.90","fontSize":11,"color":"#8a8a8a","align":"left","baseline":"middle"},
   "encoding":{"x":{"datum":0.7,"type":"quantitative"},"y":{"datum":2356,"type":"quantitative"}}},
  {"data":{"values":[{}]},"mark":{"type":"text","text":"12","fontSize":15,"color":"#f39a1e","align":"left","baseline":"middle"},
   "encoding":{"x":{"datum":366.8,"type":"quantitative"},"y":{"datum":2429,"type":"quantitative"}}},
  {"data":{"values":[{}]},"mark":{"type":"text","text":"h","fontSize":15,"color":"#b5b5b5","align":"left","baseline":"middle"},
   "encoding":{"x":{"datum":372.3,"type":"quantitative"},"y":{"datum":2429,"type":"quantitative"}}},
  {"data":{"values":[{}]},"mark":{"type":"text","text":"48","fontSize":15,"color":"#f39a1e","align":"left","baseline":"middle"},
   "encoding":{"x":{"datum":375.6,"type":"quantitative"},"y":{"datum":2429,"type":"quantitative"}}},
  {"data":{"values":[{}]},"mark":{"type":"text","text":"m","fontSize":15,"color":"#b5b5b5","align":"left","baseline":"middle"},
   "encoding":{"x":{"datum":381.0,"type":"quantitative"},"y":{"datum":2429,"type":"quantitative"}}},
  {"data":{"values":[{}]},"mark":{"type":"point","shape":"triangle-left","filled":true,"size":140,"color":"#7b8288","opacity":1},
   "encoding":{"x":{"datum":383.0,"type":"quantitative"},"y":{"datum":5283.43,"type":"quantitative"}}},
  {"data":{"values":[{}]},"mark":{"type":"rect","fill":"#7b8288"},
   "encoding":{"x":{"datum":384.2,"type":"quantitative"},"x2":{"datum":403.3},"y":{"datum":5344,"type":"quantitative"},"y2":{"datum":5223}}},
  {"data":{"values":[{}]},"mark":{"type":"text","text":"5283.43","fontSize":12,"color":"white","align":"left","baseline":"middle"},
   "encoding":{"x":{"datum":386.3,"type":"quantitative"},"y":{"datum":5283.43,"type":"quantitative"}}}
 ]},
{"width":1238,"height":65,
 "layer":[
  {"data":{"name":"bars"},"mark":{"type":"line","color":"#333333","strokeWidth":1.1},
   "encoding":{"x":{"field":"i","type":"quantitative","title":null,"scale":{"domain":[-1.47,384.64],"nice":false,"zero":false},
     "axis":{"values":[0,42,84,126,168,210,252,294,336,378],"labels":false,"grid":true,"title":null}},
    "y":{"field":"r","type":"quantitative","title":null,"scale":{"domain":[0,100],"nice":false},
     "axis":{"orient":"right","values":[0,70],"format":".1f","labelPadding":9,"grid":true,"labelFlush":true,"title":null}}}},
  {"data":{"values":[{}]},"mark":{"type":"rule","color":"#d4d4d4","strokeWidth":1.3},"encoding":{"y":{"datum":100,"type":"quantitative"}}},
  {"data":{"values":[{}]},"mark":{"type":"rule","color":"#c2c2c2","strokeWidth":3},
   "encoding":{"x":{"datum":202.6,"type":"quantitative"},"x2":{"datum":205.6},"y":{"datum":99,"type":"quantitative"}}},
  {"data":{"values":[{}]},"mark":{"type":"text","text":"☰ ✖ RSI [14] 87.9","fontSize":11,"color":"#8a8a8a","align":"left","baseline":"middle"},
   "encoding":{"x":{"datum":0.7,"type":"quantitative"},"y":{"datum":17,"type":"quantitative"}}}
 ]},
{"width":1238,"height":66,
 "layer":[
  {"data":{"name":"bars"},"mark":{"type":"bar","width":1.2},
   "encoding":{"x":{"field":"i","type":"quantitative","title":null,"scale":{"domain":[-1.47,384.64],"nice":false,"zero":false},
     "axis":{"values":[0,42,84,126,168,210,252,294,336,378],"labels":false,"grid":true,"title":null}},
    "y":{"field":"v","type":"quantitative","title":null,"scale":{"domain":[0,2315.612],"nice":false},
     "axis":{"orient":"right","values":[0,1157.806,2315.612],"labelExpr":"format(datum.value*1000,'d')","labelPadding":9,"grid":true,"labelFlush":true,"title":null}},
    "color":{"condition":{"test":"datum.c >= datum.o","value":"#12b27b"},"value":"#ef3a33"}}},
  {"data":{"values":[{}]},"mark":{"type":"rule","color":"#d4d4d4","strokeWidth":1.3},"encoding":{"y":{"datum":2315.612,"type":"quantitative"}}},
  {"data":{"values":[{}]},"mark":{"type":"rule","color":"#c2c2c2","strokeWidth":3},
   "encoding":{"x":{"datum":202.6,"type":"quantitative"},"x2":{"datum":205.6},"y":{"datum":2280,"type":"quantitative"}}},
  {"data":{"values":[{}]},"mark":{"type":"text","text":"☰ ✖ Wolumen (tickowy) 227340","fontSize":11,"color":"#808080","opacity":0.85,"align":"left","baseline":"middle"},
   "encoding":{"x":{"datum":0.7,"type":"quantitative"},"y":{"datum":421,"type":"quantitative"}}}
 ]},
{"width":1238,"height":42,
 "layer":[
  {"data":{"name":"bars"},"mark":{"type":"bar","width":3.2},
   "encoding":{"x":{"field":"i","type":"quantitative","title":null,"scale":{"domain":[-1.47,384.64],"nice":false,"zero":false},
     "axis":{"values":[0,42,84,126,168,210,252,294,336,378],"grid":true,"title":null,"labelAlign":"left","labelPadding":4,"labelColor":"#444444","domain":true,"domainColor":"#e4e4e4",
      "labelExpr":"['23.09.2024','20.11.2024','22.01.2025','20.03.2025','20.05.2025','18.07.2025','17.09.2025','14.11.2025','16.01.2026','04.03.2026'][round(datum.value/42)]"}},
    "y":{"field":"d","type":"quantitative","title":null,"scale":{"domain":[-223.978,223.978],"nice":false,"zero":false},
     "axis":{"orient":"right","values":[-223.978,0,223.978],"labelExpr":"datum.value > 1 ? '223.9783' : (datum.value < -1 ? '-223.978' : '0.00000')","labelPadding":9,"grid":true,"labelFlush":true,"title":null}},
    "y2":{"datum":0},
    "color":{"condition":{"test":"datum.d >= 0","value":"#0b74c4"},"value":"#c70d12"}}},
  {"data":{"name":"macd"},"mark":{"type":"line","color":"#4ea7e6","strokeWidth":2,"opacity":0.9,"interpolate":"monotone"},
   "encoding":{"x":{"field":"i","type":"quantitative","title":null},"y":{"field":"m","type":"quantitative","title":null}}},
  {"data":{"name":"macd"},"mark":{"type":"line","color":"#e0363b","strokeWidth":2,"opacity":0.7,"interpolate":"monotone"},
   "encoding":{"x":{"field":"i","type":"quantitative","title":null},"y":{"field":"s","type":"quantitative","title":null}}},
  {"data":{"values":[{}]},"mark":{"type":"rule","color":"#d4d4d4","strokeWidth":1.3},"encoding":{"y":{"datum":223.978,"type":"quantitative"}}},
  {"data":{"values":[{}]},"mark":{"type":"rule","color":"#c2c2c2","strokeWidth":3},
   "encoding":{"x":{"datum":202.6,"type":"quantitative"},"x2":{"datum":205.6},"y":{"datum":213,"type":"quantitative"}}},
  {"data":{"values":[{}]},"mark":{"type":"text","text":"☰ ✖ MACD [14, 30, 7] 207.88113, 155.54086","fontSize":11,"color":"#8a8a8a","align":"left","baseline":"middle"},
   "encoding":{"x":{"datum":0.7,"type":"quantitative"},"y":{"datum":-146,"type":"quantitative"}}}
 ]}
]
}
